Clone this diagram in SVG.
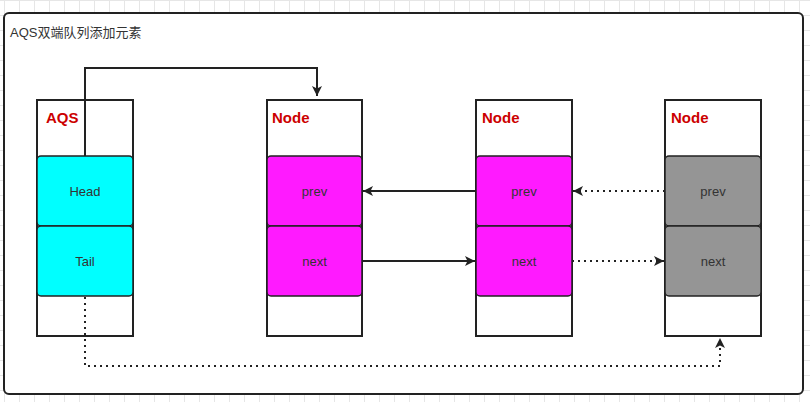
<svg xmlns="http://www.w3.org/2000/svg" width="810" height="402" viewBox="0 0 810 402">
<defs>
<pattern id="grid" width="15" height="15" patternUnits="userSpaceOnUse" x="4" y="0">
<path d="M0.5 0V15M0 0.5H15" fill="none" stroke="#e6e6e6" stroke-width="1"/>
</pattern>
<marker id="arr" viewBox="0 0 10 10" refX="10" refY="5" markerWidth="10" markerHeight="10" markerUnits="userSpaceOnUse" orient="auto">
<path d="M0,0 L10,5 L0,10 L2.5,5 Z" fill="#222"/>
</marker>
</defs>
<style>
.box{fill:#fff;stroke:#222;stroke-width:2}
.cell{stroke:#222;stroke-width:1.5}
.title{font-family:"Liberation Sans","Noto Sans CJK SC",sans-serif;font-size:13px;fill:#333}
.hdr{font-family:"Liberation Sans",sans-serif;font-size:15px;font-weight:bold;fill:#cc0000}
.lbl{font-family:"Liberation Sans",sans-serif;font-size:13px;fill:#333;text-anchor:middle;dominant-baseline:central}
.ln{fill:none;stroke:#222;stroke-width:2}
.dot{fill:none;stroke:#222;stroke-width:2;stroke-dasharray:2 4}
</style>
<rect width="810" height="402" fill="#fff"/>
<rect width="810" height="402" fill="url(#grid)"/>
<rect x="4" y="13" width="799" height="381" rx="5" fill="#fff" stroke="#222" stroke-width="2"/>
<text class="title" x="10" y="37">AQS双端队列添加元素</text>

<g id="aqs">
<rect class="box" x="37" y="100" width="96" height="236"/>
<text class="hdr" x="46" y="123">AQS</text>
<rect class="cell" x="37" y="156" width="96" height="70" rx="4" fill="#00ffff"/>
<text class="lbl" x="85" y="191">Head</text>
<rect class="cell" x="37" y="226" width="96" height="70" rx="4" fill="#00ffff"/>
<text class="lbl" x="85" y="261">Tail</text>
</g>

<g id="node1">
<rect class="box" x="267" y="100" width="95" height="236"/>
<text class="hdr" x="272" y="123">Node</text>
<rect class="cell" x="267" y="156" width="95" height="70" rx="4" fill="#ff1aff"/>
<text class="lbl" x="314.5" y="191">prev</text>
<rect class="cell" x="267" y="226" width="95" height="70" rx="4" fill="#ff1aff"/>
<text class="lbl" x="314.5" y="261">next</text>
</g>

<g id="node2">
<rect class="box" x="476" y="100" width="96" height="236"/>
<text class="hdr" x="482" y="123">Node</text>
<rect class="cell" x="476" y="156" width="96" height="70" rx="4" fill="#ff1aff"/>
<text class="lbl" x="524" y="191">prev</text>
<rect class="cell" x="476" y="226" width="96" height="70" rx="4" fill="#ff1aff"/>
<text class="lbl" x="524" y="261">next</text>
</g>

<g id="node3">
<rect class="box" x="665" y="100" width="96" height="236"/>
<text class="hdr" x="671" y="123">Node</text>
<rect class="cell" x="665" y="156" width="96" height="70" rx="4" fill="#959595"/>
<text class="lbl" x="713" y="191">prev</text>
<rect class="cell" x="665" y="226" width="96" height="70" rx="4" fill="#959595"/>
<text class="lbl" x="713" y="261">next</text>
</g>

<g id="connectors">
<path class="ln" d="M85,156 V68 H317 V96" marker-end="url(#arr)"/>
<path class="ln" d="M476,191 H363" marker-end="url(#arr)"/>
<path class="ln" d="M362,261 H475" marker-end="url(#arr)"/>
<path class="dot" d="M665,191 H573" marker-end="url(#arr)"/>
<path class="dot" d="M572,261 H664" marker-end="url(#arr)"/>
<path class="dot" d="M85,297 V366 H720 V338" marker-end="url(#arr)"/>
</g>
</svg>
